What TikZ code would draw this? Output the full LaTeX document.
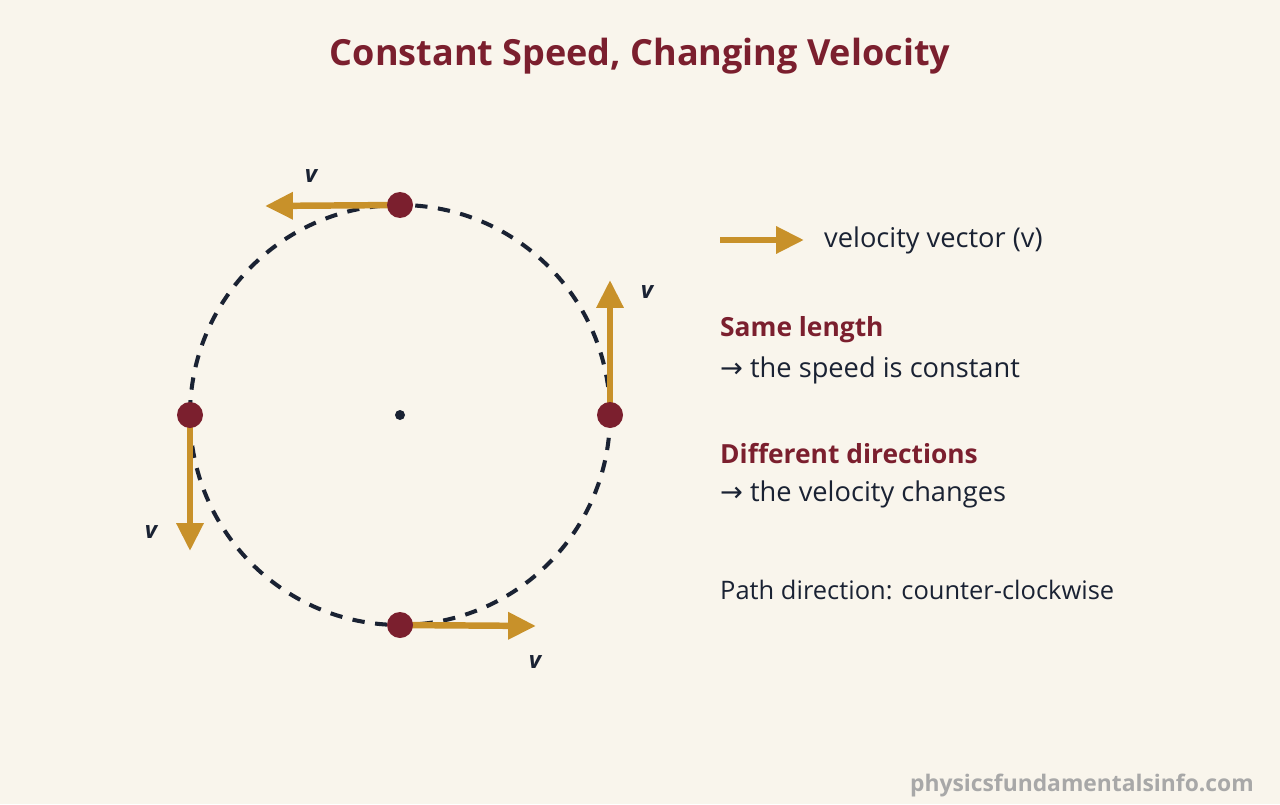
\documentclass[tikz,border=0pt]{standalone}
\usepackage{fontspec}
\setmainfont{Open Sans}
\newfontfamily\symfont{DejaVu Sans}
\usepackage{xcolor}
\usetikzlibrary{arrows.meta}
\definecolor{bgcol}{HTML}{F9F5EC}
\definecolor{maroon}{HTML}{7B1F2E}
\definecolor{gold}{HTML}{C8912A}
\definecolor{navy}{HTML}{1A2233}
\definecolor{wmgray}{HTML}{A8A8A8}

\begin{document}
\begin{tikzpicture}[x=0.02cm, y=-0.02cm,
    vel/.style={gold, line width=6.5pt*0.567, -{Triangle[length=28*0.567pt, width=26*0.567pt]}},
    lbl/.style={font=\fontsize{13.5}{15}\selectfont\bfseries\itshape, text=navy},
    txt/.style={anchor=west, font=\fontsize{15.5}{18}\selectfont, text=navy},
    head/.style={anchor=west, font=\fontsize{15}{18}\selectfont\bfseries, text=maroon}]

    % Background
    \fill[bgcol] (0, 0) rectangle (1280, 804);
    \useasboundingbox (0, 0) rectangle (1280, 804);

    \node[font=\fontsize{20.5}{24}\selectfont\bfseries, text=maroon] (title) at (640, 56) {Constant Speed, Changing Velocity};

    % Path
    \coordinate (c) at (400, 415);
    \draw[navy, line width=2.3pt, dash pattern=on 7pt off 6pt] (c) circle (210);
    \fill[navy] (c) circle (5);

    \coordinate (ptop) at (400, 205);
    \coordinate (pright) at (610, 415);
    \coordinate (pleft) at (190, 415);
    \coordinate (pbot) at (400, 625);

    \coordinate (etop) at (265, 206);
    \coordinate (eright) at (610, 280);
    \coordinate (eleft) at (190, 551);
    \coordinate (ebot) at (536, 626);

    \draw[vel] (ptop) -- (etop);
    \draw[vel] (pright) -- (eright);
    \draw[vel] (pleft) -- (eleft);
    \draw[vel] (pbot) -- (ebot);

    \foreach \p in {ptop, pright, pleft, pbot}
        \fill[maroon] (\p) circle (13);

    \node[lbl] (vtop) at (311, 176) {v};
    \node[lbl] (vright) at (647, 292) {v};
    \node[lbl] (vleft) at (151, 532) {v};
    \node[lbl] (vbot) at (535, 662) {v};

    % Legend
    \coordinate (la) at (720, 240);
    \coordinate (lb) at (804, 240);
    \draw[vel] (la) -- (lb);
    \node[txt] (legend) at (818, 240) {velocity vector (v)};

    \node[head] (same) at (714, 330) {Same length};
    \node[txt] (speed) at (714, 370) {{\symfont →} the speed is constant};
    \node[head] (diff) at (714, 454) {Different directions};
    \node[txt] (velo) at (714, 494) {{\symfont →} the velocity changes};
    \node[txt, font=\fontsize{14.5}{17}\selectfont] (dir) at (714, 590) {Path direction: counter-clockwise};

    \node[anchor=east, font=\fontsize{13}{15}\selectfont\bfseries, text=wmgray] (wm) at (1260, 785) {physicsfundamentalsinfo.com};

\end{tikzpicture}
\end{document}
